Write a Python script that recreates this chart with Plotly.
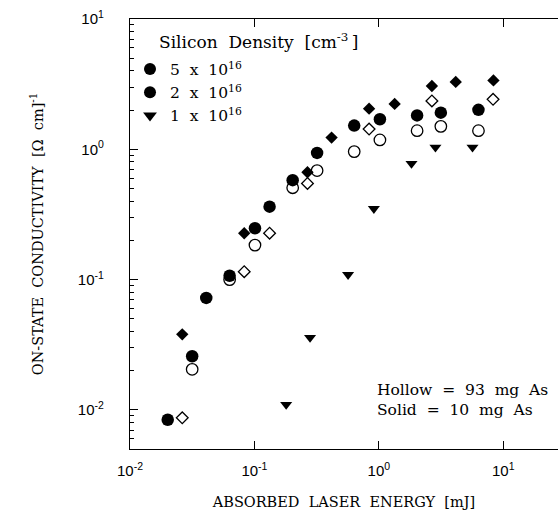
import plotly.graph_objects as go

# Solid = 10 mg As, Hollow = 93 mg As
dia_solid_x = [0.0263, 0.0828, 0.267, 0.417, 0.835, 1.34, 2.67, 4.15, 8.34]
dia_solid_y = [0.038, 0.227, 0.667, 1.23, 2.05, 2.23, 3.06, 3.29, 3.38]

dia_hollow_x = [0.0263, 0.0828, 0.1324, 0.267, 0.835, 2.67, 8.28]
dia_hollow_y = [0.0087, 0.115, 0.227, 0.547, 1.43, 2.35, 2.42]

circ_solid_x = [0.0201, 0.0316, 0.041, 0.0632, 0.101, 0.1324, 0.203, 0.319, 0.634, 1.02, 2.03, 3.15, 6.32]
circ_solid_y = [0.0084, 0.0258, 0.0724, 0.107, 0.248, 0.363, 0.58, 0.938, 1.52, 1.70, 1.82, 1.91, 2.01]

circ_hollow_x = [0.0316, 0.0632, 0.101, 0.203, 0.319, 0.634, 1.02, 2.03, 3.15, 6.32]
circ_hollow_y = [0.0205, 0.100, 0.184, 0.507, 0.687, 0.96, 1.18, 1.39, 1.50, 1.39]

tri_x = [0.18, 0.28, 0.566, 0.912, 1.83, 2.85, 5.66]
tri_y = [0.011, 0.0359, 0.109, 0.35, 0.778, 1.035, 1.035]

legend_labels = ["5 x 10<sup>16</sup>", "2 x 10<sup>16</sup>", "1 x 10<sup>16</sup>"]
legend_symbols = ["circle", "circle", "triangle-down"]

x_tickvals = [0.01, 0.1, 1, 10]
x_ticktext = ["10<sup>-2</sup>", "10<sup>-1</sup>", "10<sup>0</sup>", "10<sup>1</sup>"]
y_tickvals = [0.01, 0.1, 1, 10]
y_ticktext = ["10<sup>-2</sup>", "10<sup>-1</sup>", "10<sup>0</sup>", "10<sup>1</sup>"]
y_minor_vals = [m * d for d in [0.001, 0.01, 0.1, 1] for m in range(2, 10)]

serif = "DejaVu Serif"
sans = "Liberation Sans"
SP = " \u00a0"  # wide word spacing like the typewriter-style original


def wide(s):
    return s.replace(" ", SP)


fig = go.Figure()
line_k = dict(color="black", width=1.3)
fig.add_trace(go.Scatter(x=dia_solid_x, y=dia_solid_y, mode="markers", showlegend=False,
                         marker=dict(symbol="diamond", size=9.5, color="black", line=dict(width=0))))
fig.add_trace(go.Scatter(x=dia_hollow_x, y=dia_hollow_y, mode="markers", showlegend=False,
                         marker=dict(symbol="diamond-open", size=9, color="black", line=line_k)))
fig.add_trace(go.Scatter(x=circ_solid_x, y=circ_solid_y, mode="markers", showlegend=False,
                         marker=dict(symbol="circle", size=12.5, color="black", line=dict(width=0))))
fig.add_trace(go.Scatter(x=circ_hollow_x, y=circ_hollow_y, mode="markers", showlegend=False,
                         marker=dict(symbol="circle-open", size=11.5, color="black", line=line_k)))
fig.add_trace(go.Scatter(x=tri_x, y=tri_y, mode="markers", showlegend=False,
                         marker=dict(symbol="triangle-down", size=10.5, color="black", line=dict(width=0))))

for lab, sym in zip(legend_labels, legend_symbols):
    fig.add_trace(go.Scatter(x=[None], y=[None], mode="markers", name=wide(lab),
                             marker=dict(symbol=sym, size=12, color="black")))

fig.update_layout(
    template="none",
    width=558, height=515,
    margin=dict(l=130, r=0, t=19, b=66, autoexpand=False),
    paper_bgcolor="white", plot_bgcolor="white",
    font=dict(family=serif, size=15, color="black"),
    showlegend=True,
    legend=dict(x=0.0, y=0.922, xanchor="left", yanchor="top",
                bgcolor="rgba(0,0,0,0)", font=dict(family=serif, size=15.5),
                tracegroupgap=0, itemsizing="trace"),
    annotations=[
        dict(text=wide("Silicon Density [cm<sup>-3</sup>\u2009]"), xref="paper", yref="paper",
             x=(157 - 130) / 428, y=(449 - 41) / 430, xanchor="left", yanchor="middle",
             showarrow=False, font=dict(family=serif, size=17)),
        dict(text=wide("Hollow = 93 mg As") + "<br>" + wide("Solid = 10 mg As"), xref="paper", yref="paper",
             x=(375 - 130) / 428, y=(449 - 400) / 430, xanchor="left", yanchor="middle",
             align="left", showarrow=False, font=dict(family=serif, size=15.5)),
    ],
    yaxis2=dict(overlaying="y", side="right", type="log", range=[-2.3, 1.0],
                showgrid=False, zeroline=False, showline=False,
                ticks="inside", ticklen=7, tickwidth=1, tickcolor="black",
                tickvals=y_tickvals, showticklabels=False, automargin=False),
)

fig.update_xaxes(
    type="log", range=[-2, 1.44], automargin=False,
    showgrid=False, zeroline=False,
    showline=True, linecolor="black", linewidth=1.2, mirror="allticks",
    ticks="inside", ticklen=8, tickwidth=1, tickcolor="black",
    tickvals=x_tickvals, ticktext=x_ticktext,
    tickfont=dict(family=sans, size=15),
    ticklabelstandoff=8,
    title=dict(text=wide("ABSORBED LASER ENERGY [mJ]"), font=dict(family=serif, size=14.5), standoff=18),
)
fig.update_yaxes(
    selector=dict(overlaying=None),
    type="log", range=[-2.3, 1.0], automargin=False,
    showgrid=False, zeroline=False,
    showline=True, linecolor="black", linewidth=1.2, mirror=False,
    ticks="inside", ticklen=8, tickwidth=1, tickcolor="black",
    tickvals=y_tickvals, ticktext=y_ticktext,
    tickfont=dict(family=sans, size=15),
    ticklabelstandoff=22,
    minor=dict(ticks="inside", ticklen=4, tickwidth=1, tickcolor="black", showgrid=False,
               tickvals=y_minor_vals),
    title=dict(text=wide("ON-STATE CONDUCTIVITY [Ω cm]") + "<sup>-1</sup>",
               font=dict(family=serif, size=14.5), standoff=30),
)

fig.write_html("out.html", config={"displayModeBar": False},
               post_script="document.body.style.margin='0';document.body.style.overflow='hidden';")
